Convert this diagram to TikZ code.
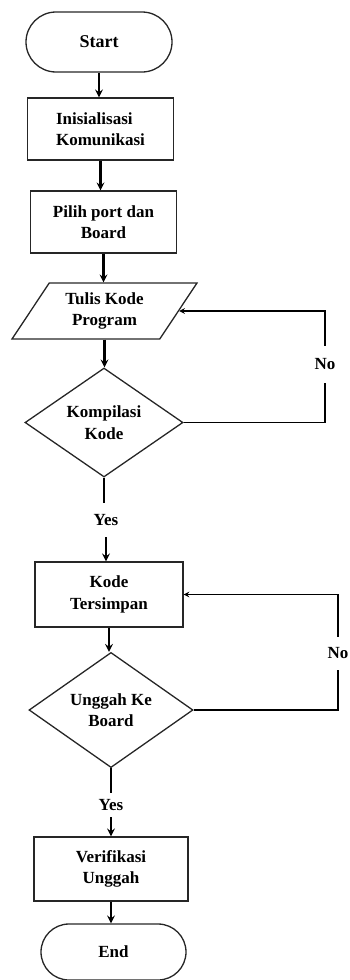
\documentclass[tikz,border=0pt]{standalone}
\usepackage{fontspec}
\setmainfont{Liberation Serif}
\usetikzlibrary{shapes.geometric}

\begin{document}
\begin{tikzpicture}[%
    x=1pt, y=-1pt,
    base/.style={%
        font=\bfseries\fontsize{17}{21.5}\selectfont,
        line width=1.3pt,
        draw=black!85,
        inner sep=2pt
    },
    terminal/.style={%
        base,
        rectangle,
        rounded corners=28pt,
        minimum width=145pt,
        minimum height=56pt
    },
    process/.style={%
        base,
        rectangle,
        align=center,
        minimum width=146pt,
        minimum height=62pt
    },
    io/.style={%
        base,
        trapezium,
        trapezium left angle=56,
        trapezium right angle=124,
        trapezium stretches=true,
        align=center,
        minimum width=185pt,
        minimum height=56pt
    },
    decision/.style={%
        base,
        diamond,
        align=center,
        inner sep=0pt
    },
    answer/.style={%
        font=\bfseries\fontsize{17}{21.5}\selectfont,
        inner sep=0pt
    },
    flow/.style={line width=2.4pt},
    loop/.style={line width=1.5pt},
    >=stealth
]
\useasboundingbox (0,0) rectangle (350,980);

% Start
    \node[terminal, rounded corners=30pt, minimum width=146pt, minimum height=60pt,
        font=\bfseries\fontsize{18}{22}\selectfont] (start) at (99,42) {Start};

% Inisialisasi dan port
    \node[process, align=left] (init) at (100.5,129) {Inisialisasi\\Komunikasi};
    \node[process] (port) at (103.5,222) {Pilih port dan\\Board};

% Tulis kode dan kompilasi
    \node[io] (tulis) at (104.5,311) {Tulis Kode\\Program};
    \node[decision, minimum width=158pt, minimum height=109pt] (kompilasi) at (104,422.5) {Kompilasi\\Kode};
    \node[answer, minimum height=34pt] (yes1) at (106,520) {Yes};
    \node[answer, minimum height=37pt] (no1) at (325,364.5) {No};

% Simpan dan unggah
    \node[process, minimum width=148pt, minimum height=65pt] (simpan) at (109,594.5) {Kode\\Tersimpan};
    \node[decision, minimum width=164pt, minimum height=114pt] (unggah) at (111,710) {Unggah Ke\\Board};
    \node[answer, minimum height=24pt] (yes2) at (111,805) {Yes};
    \node[answer, minimum height=33pt] (no2) at (338,653.5) {No};

% Verifikasi dan End
    \node[process, minimum width=154pt, minimum height=64pt] (verif) at (111,869) {Verifikasi\\Unggah};
    \node[terminal] (end) at (113.5,952) {End};

% Arrows
\draw[flow,->] (start.south) -- (start.south |- init.north);
\draw[flow,->] (init.south) -- (init.south |- port.north);
\draw[flow,->] (port.south) -- (port.south |- tulis.north);
\draw[flow,->] (tulis.south) -- (tulis.south |- kompilasi.north);

\draw[loop] (kompilasi.east) -| (no1.south);
\draw[loop,->] (no1.north) |- (tulis.east);

\draw[loop] (kompilasi.south) -- (kompilasi.south |- yes1.north);
\draw[flow,->] (yes1.south) -- (yes1.south |- simpan.north);

\draw[flow,->] (simpan.south) -- (simpan.south |- unggah.north);

\draw[loop] (unggah.east) -| (no2.south);
\draw[loop,->] (no2.north) |- (simpan.east);

\draw[loop] (unggah.south) -- (unggah.south |- yes2.north);
\draw[flow,->] (yes2.south) -- (yes2.south |- verif.north);

\draw[flow,->] (verif.south) -- (verif.south |- end.north);

\end{tikzpicture}
\end{document}
